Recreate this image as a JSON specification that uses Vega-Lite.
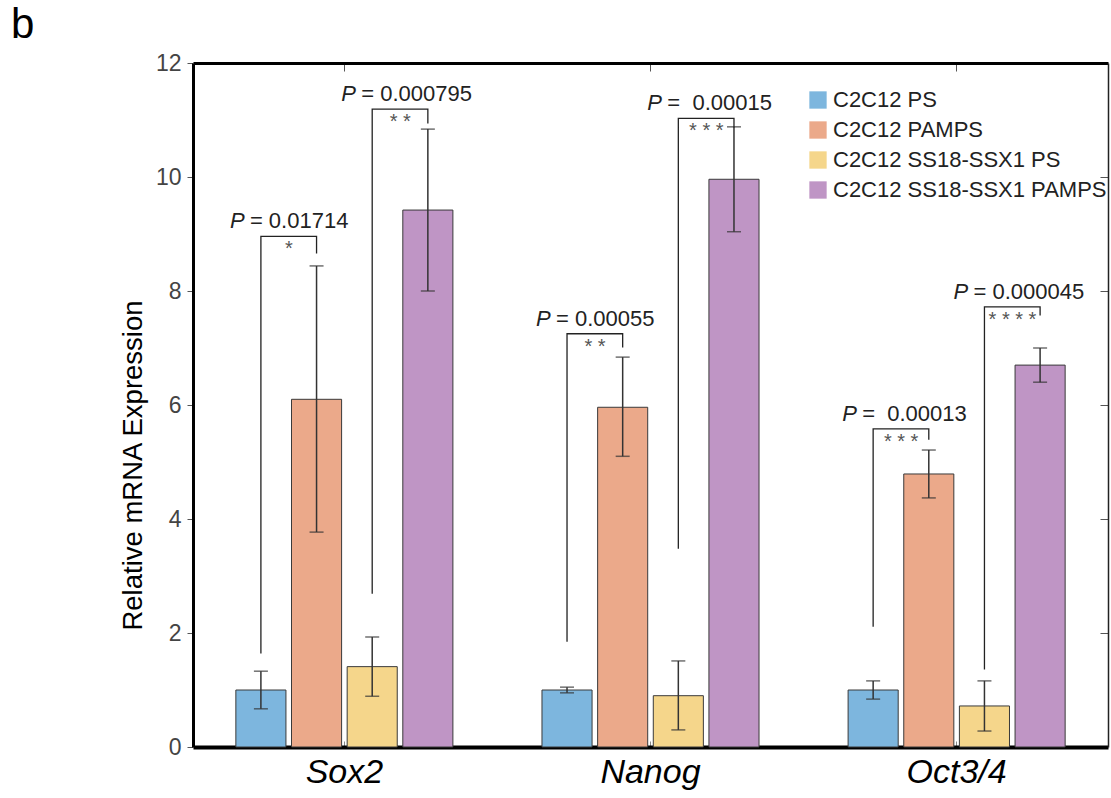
{
  "$schema": "https://vega.github.io/schema/vega-lite/v6.json",
  "width": 915,
  "height": 684,
  "autosize": "none",
  "padding": {"left": 193, "top": 63, "right": 3, "bottom": 51},
  "config": {
    "view": {"stroke": null},
    "font": "Liberation Sans",
    "axis": {"grid": false}
  },
  "title": {
    "text": "b",
    "anchor": "start",
    "frame": "group",
    "fontSize": 42,
    "fontWeight": "normal",
    "color": "#000000",
    "dx": -182,
    "dy": 48,
    "offset": 20,
    "baseline": "alphabetic"
  },
  "datasets": {
    "bars": [
      {"gene": "Sox2", "cond": "C2C12 PS", "mean": 1.0, "lo": 0.67, "hi": 1.33},
      {"gene": "Sox2", "cond": "C2C12 PAMPS", "mean": 6.1, "lo": 3.77, "hi": 8.44},
      {"gene": "Sox2", "cond": "C2C12 SS18-SSX1 PS", "mean": 1.41, "lo": 0.89, "hi": 1.93},
      {"gene": "Sox2", "cond": "C2C12 SS18-SSX1 PAMPS", "mean": 9.42, "lo": 8.0, "hi": 10.84},
      {"gene": "Nanog", "cond": "C2C12 PS", "mean": 1.0, "lo": 0.95, "hi": 1.05},
      {"gene": "Nanog", "cond": "C2C12 PAMPS", "mean": 5.96, "lo": 5.1, "hi": 6.84},
      {"gene": "Nanog", "cond": "C2C12 SS18-SSX1 PS", "mean": 0.9, "lo": 0.3, "hi": 1.51},
      {"gene": "Nanog", "cond": "C2C12 SS18-SSX1 PAMPS", "mean": 9.96, "lo": 9.04, "hi": 10.88},
      {"gene": "Oct3/4", "cond": "C2C12 PS", "mean": 1.0, "lo": 0.84, "hi": 1.16},
      {"gene": "Oct3/4", "cond": "C2C12 PAMPS", "mean": 4.79, "lo": 4.37, "hi": 5.21},
      {"gene": "Oct3/4", "cond": "C2C12 SS18-SSX1 PS", "mean": 0.72, "lo": 0.28, "hi": 1.16},
      {"gene": "Oct3/4", "cond": "C2C12 SS18-SSX1 PAMPS", "mean": 6.7, "lo": 6.4, "hi": 7.0}
    ],
    "brackets": [
      {"id": "s1", "gene": "Sox2", "cond": "C2C12 PS", "y": 1.65, "ord": 1},
      {"id": "s1", "gene": "Sox2", "cond": "C2C12 PS", "y": 8.96, "ord": 2},
      {"id": "s1", "gene": "Sox2", "cond": "C2C12 PAMPS", "y": 8.96, "ord": 3},
      {"id": "s1", "gene": "Sox2", "cond": "C2C12 PAMPS", "y": 8.67, "ord": 4},
      {"id": "s2", "gene": "Sox2", "cond": "C2C12 SS18-SSX1 PS", "y": 2.7, "ord": 1},
      {"id": "s2", "gene": "Sox2", "cond": "C2C12 SS18-SSX1 PS", "y": 11.19, "ord": 2},
      {"id": "s2", "gene": "Sox2", "cond": "C2C12 SS18-SSX1 PAMPS", "y": 11.19, "ord": 3},
      {"id": "s2", "gene": "Sox2", "cond": "C2C12 SS18-SSX1 PAMPS", "y": 10.95, "ord": 4},
      {"id": "n1", "gene": "Nanog", "cond": "C2C12 PS", "y": 1.86, "ord": 1},
      {"id": "n1", "gene": "Nanog", "cond": "C2C12 PS", "y": 7.25, "ord": 2},
      {"id": "n1", "gene": "Nanog", "cond": "C2C12 PAMPS", "y": 7.25, "ord": 3},
      {"id": "n1", "gene": "Nanog", "cond": "C2C12 PAMPS", "y": 7.02, "ord": 4},
      {"id": "n2", "gene": "Nanog", "cond": "C2C12 SS18-SSX1 PS", "y": 3.49, "ord": 1},
      {"id": "n2", "gene": "Nanog", "cond": "C2C12 SS18-SSX1 PS", "y": 11.03, "ord": 2},
      {"id": "n2", "gene": "Nanog", "cond": "C2C12 SS18-SSX1 PAMPS", "y": 11.03, "ord": 3},
      {"id": "n2", "gene": "Nanog", "cond": "C2C12 SS18-SSX1 PAMPS", "y": 10.88, "ord": 4},
      {"id": "o1", "gene": "Oct3/4", "cond": "C2C12 PS", "y": 2.12, "ord": 1},
      {"id": "o1", "gene": "Oct3/4", "cond": "C2C12 PS", "y": 5.58, "ord": 2},
      {"id": "o1", "gene": "Oct3/4", "cond": "C2C12 PAMPS", "y": 5.58, "ord": 3},
      {"id": "o1", "gene": "Oct3/4", "cond": "C2C12 PAMPS", "y": 5.4, "ord": 4},
      {"id": "o2", "gene": "Oct3/4", "cond": "C2C12 SS18-SSX1 PS", "y": 1.37, "ord": 1},
      {"id": "o2", "gene": "Oct3/4", "cond": "C2C12 SS18-SSX1 PS", "y": 7.72, "ord": 2},
      {"id": "o2", "gene": "Oct3/4", "cond": "C2C12 SS18-SSX1 PAMPS", "y": 7.72, "ord": 3},
      {"id": "o2", "gene": "Oct3/4", "cond": "C2C12 SS18-SSX1 PAMPS", "y": 7.58, "ord": 4}
    ],
    "labels": [
      {"gene": "Sox2", "cond": "C2C12 PS", "top": 8.96, "p": "= 0.01714", "stars": "*"},
      {"gene": "Sox2", "cond": "C2C12 SS18-SSX1 PS", "top": 11.19, "p": "= 0.000795", "stars": "* *"},
      {"gene": "Nanog", "cond": "C2C12 PS", "top": 7.25, "p": "= 0.00055", "stars": "* *"},
      {"gene": "Nanog", "cond": "C2C12 SS18-SSX1 PS", "top": 11.03, "p": "=\u00a0\u00a00.00015", "stars": "* * *"},
      {"gene": "Oct3/4", "cond": "C2C12 PS", "top": 5.58, "p": "=\u00a0\u00a00.00013", "stars": "* * *"},
      {"gene": "Oct3/4", "cond": "C2C12 SS18-SSX1 PS", "top": 7.72, "p": "= 0.000045", "stars": "* * * *"}
    ]
  },
  "resolve": {"axis": {"x": "independent", "y": "independent"}},
  "layer": [
    {
      "data": {"name": "bars"},
      "mark": {"type": "bar", "stroke": "#3a3a3a", "strokeWidth": 1},
      "encoding": {
        "x": {
          "field": "gene", "type": "nominal", "sort": ["Sox2", "Nanog", "Oct3/4"],
          "scale": {"paddingInner": 0.291, "paddingOuter": 0.14},
          "axis": {
            "orient": "bottom", "title": null, "labelAngle": 0,
            "labelFontSize": 34, "labelFontStyle": "italic", "labelColor": "#000000",
            "labelPadding": 14, "labelDx": -7, "domainWidth": 4, "domainColor": "#000000",
            "ticks": true, "tickSize": -6, "tickColor": "#888888"
          }
        },
        "xOffset": {
          "field": "cond", "type": "nominal",
          "sort": ["C2C12 PS", "C2C12 PAMPS", "C2C12 SS18-SSX1 PS", "C2C12 SS18-SSX1 PAMPS"],
          "scale": {"paddingInner": 0.1, "paddingOuter": 0}
        },
        "y": {
          "field": "mean", "type": "quantitative",
          "scale": {"domain": [0, 12], "nice": false},
          "axis": {
            "orient": "left", "title": "Relative mRNA  Expression",
            "values": [0, 2, 4, 6, 8, 10, 12],
            "titleFontSize": 27.5, "titleFontWeight": "normal", "titleColor": "#000000",
            "titlePadding": 8, "titleY": 402,
            "labelFontSize": 23, "labelColor": "#444444", "labelPadding": 6,
            "domainWidth": 3, "domainColor": "#000000",
            "tickSize": 6, "tickColor": "#555555", "tickWidth": 1
          }
        },
        "color": {
          "field": "cond", "type": "nominal",
          "scale": {
            "domain": ["C2C12 PS", "C2C12 PAMPS", "C2C12 SS18-SSX1 PS", "C2C12 SS18-SSX1 PAMPS"],
            "range": ["#7db6de", "#eba98a", "#f5d68b", "#bf95c5"]
          },
          "legend": {
            "orient": "none", "legendX": 614, "legendY": 26, "title": null,
            "symbolType": "square", "symbolSize": 300, "symbolStrokeWidth": 0,
            "labelFontSize": 22, "labelColor": "#222222", "labelOffset": 4,
            "labelLimit": 400, "rowPadding": 8
          }
        }
      }
    },
    {
      "data": {"name": "bars"},
      "mark": {"type": "rule", "color": "#333333", "strokeWidth": 1.5},
      "encoding": {
        "x": {"field": "gene", "type": "nominal", "sort": ["Sox2", "Nanog", "Oct3/4"], "axis": null},
        "xOffset": {"field": "cond", "type": "nominal", "sort": ["C2C12 PS", "C2C12 PAMPS", "C2C12 SS18-SSX1 PS", "C2C12 SS18-SSX1 PAMPS"]},
        "y": {"field": "lo", "type": "quantitative", "axis": null},
        "y2": {"field": "hi"}
      }
    },
    {
      "data": {"name": "bars"},
      "mark": {"type": "tick", "color": "#333333", "thickness": 1.5, "size": 14},
      "encoding": {
        "x": {"field": "gene", "type": "nominal", "sort": ["Sox2", "Nanog", "Oct3/4"], "axis": null},
        "xOffset": {"field": "cond", "type": "nominal", "sort": ["C2C12 PS", "C2C12 PAMPS", "C2C12 SS18-SSX1 PS", "C2C12 SS18-SSX1 PAMPS"]},
        "y": {"field": "lo", "type": "quantitative", "axis": null}
      }
    },
    {
      "data": {"name": "bars"},
      "mark": {"type": "tick", "color": "#333333", "thickness": 1.5, "size": 14},
      "encoding": {
        "x": {"field": "gene", "type": "nominal", "sort": ["Sox2", "Nanog", "Oct3/4"], "axis": null},
        "xOffset": {"field": "cond", "type": "nominal", "sort": ["C2C12 PS", "C2C12 PAMPS", "C2C12 SS18-SSX1 PS", "C2C12 SS18-SSX1 PAMPS"]},
        "y": {"field": "hi", "type": "quantitative", "axis": null}
      }
    },
    {
      "data": {"name": "brackets"},
      "mark": {"type": "line", "color": "#222222", "strokeWidth": 1.3, "strokeCap": "square"},
      "encoding": {
        "x": {
          "field": "gene", "type": "nominal", "sort": ["Sox2", "Nanog", "Oct3/4"],
          "axis": {
            "orient": "top", "title": null, "labels": false,
            "domainWidth": 3, "domainColor": "#000000",
            "tickSize": -8, "tickColor": "#555555"
          }
        },
        "xOffset": {"field": "cond", "type": "nominal", "sort": ["C2C12 PS", "C2C12 PAMPS", "C2C12 SS18-SSX1 PS", "C2C12 SS18-SSX1 PAMPS"]},
        "y": {
          "field": "y", "type": "quantitative",
          "axis": {
            "orient": "right", "title": null, "labels": false,
            "values": [2, 4, 6, 8, 10],
            "domainWidth": 1.5, "domainColor": "#222222",
            "tickSize": -8, "tickColor": "#555555"
          }
        },
        "detail": {"field": "id"},
        "order": {"field": "ord"}
      }
    },
    {
      "data": {"name": "labels"},
      "mark": {"type": "text", "fontSize": 20, "color": "#555555", "align": "center", "baseline": "top", "dx": 28, "dy": 3},
      "encoding": {
        "x": {"field": "gene", "type": "nominal", "sort": ["Sox2", "Nanog", "Oct3/4"], "axis": null},
        "xOffset": {"field": "cond", "type": "nominal", "sort": ["C2C12 PS", "C2C12 PAMPS", "C2C12 SS18-SSX1 PS", "C2C12 SS18-SSX1 PAMPS"]},
        "y": {"field": "top", "type": "quantitative", "axis": null},
        "text": {"field": "stars"}
      }
    },
    {
      "data": {"name": "labels"},
      "mark": {"type": "text", "text": "P", "fontSize": 22, "fontStyle": "italic", "color": "#222222", "align": "left", "baseline": "alphabetic", "dx": -31, "dy": -8},
      "encoding": {
        "x": {"field": "gene", "type": "nominal", "sort": ["Sox2", "Nanog", "Oct3/4"], "axis": null},
        "xOffset": {"field": "cond", "type": "nominal", "sort": ["C2C12 PS", "C2C12 PAMPS", "C2C12 SS18-SSX1 PS", "C2C12 SS18-SSX1 PAMPS"]},
        "y": {"field": "top", "type": "quantitative", "axis": null}
      }
    },
    {
      "data": {"name": "labels"},
      "mark": {"type": "text", "fontSize": 22, "color": "#222222", "align": "left", "baseline": "alphabetic", "dx": -11, "dy": -8},
      "encoding": {
        "x": {"field": "gene", "type": "nominal", "sort": ["Sox2", "Nanog", "Oct3/4"], "axis": null},
        "xOffset": {"field": "cond", "type": "nominal", "sort": ["C2C12 PS", "C2C12 PAMPS", "C2C12 SS18-SSX1 PS", "C2C12 SS18-SSX1 PAMPS"]},
        "y": {"field": "top", "type": "quantitative", "axis": null},
        "text": {"field": "p"}
      }
    }
  ]
}
